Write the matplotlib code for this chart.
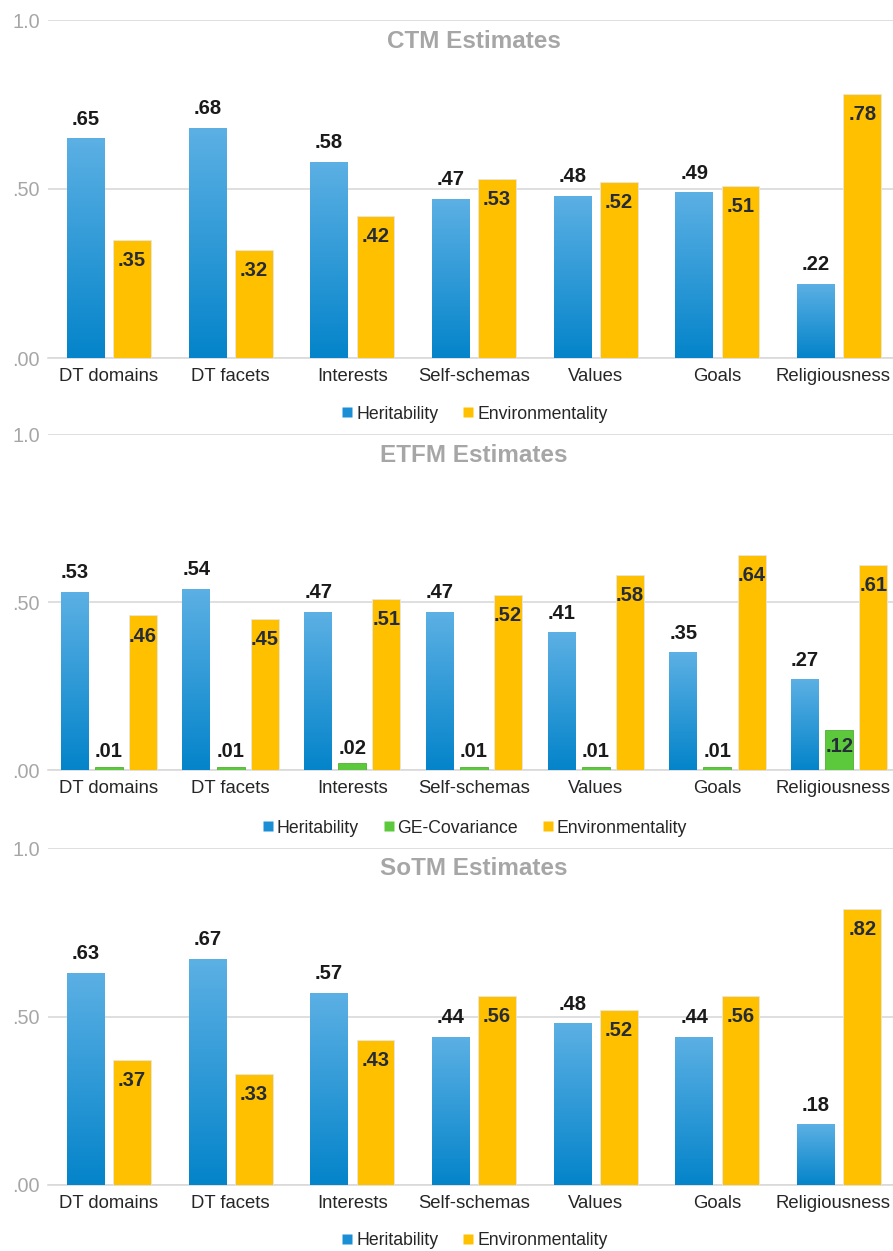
import numpy as np
import matplotlib
matplotlib.use("Agg")
import matplotlib.pyplot as plt
from matplotlib.colors import LinearSegmentedColormap
from matplotlib.lines import Line2D
from matplotlib.transforms import ScaledTranslation

plt.rcParams['font.family'] = ['Liberation Sans', 'DejaVu Sans']

categories = ['DT domains', 'DT facets', 'Interests', 'Self-schemas', 'Values', 'Goals', 'Religiousness']

ctm_herit = [.65, .68, .58, .47, .48, .49, .22]
ctm_env = [.35, .32, .42, .53, .52, .51, .78]

etfm_herit = [.53, .54, .47, .47, .41, .35, .27]
etfm_gecov = [.01, .01, .02, .01, .01, .01, .12]
etfm_env = [.46, .45, .51, .52, .58, .64, .61]

sotm_herit = [.63, .67, .57, .44, .48, .44, .18]
sotm_env = [.37, .33, .43, .56, .52, .56, .82]

yticks = [0.0, 0.5, 1.0]
ytick_labels = ['.00', '.50', '1.0']

BLUE_TOP = '#5cb0e4'
BLUE_BOT = '#0484ca'
YELLOW = '#ffc000'
GREEN = '#5cc93c'
GRID = '#d9d9d9'
GRAYTXT = '#a6a6a6'

blue_cmap = LinearSegmentedColormap.from_list('bl', [BLUE_BOT, BLUE_TOP])
grad = np.linspace(0, 1, 256).reshape(-1, 1)

W, H = 893, 1251
fig = plt.figure(figsize=(W / 100, H / 100), dpi=100)

def fmt(v):
    return ('%.2f' % v).lstrip('0')

def panel(top_px, bot_px, title, series, title_y, legend_y):
    left_px, right_px = 48, 900
    ax = fig.add_axes([left_px / W, 1 - bot_px / H, (right_px - left_px) / W, (bot_px - top_px) / H])
    x = np.arange(len(categories))
    n = len(series)
    if n == 2:
        width, offsets = 0.31, [-0.19, 0.19]
    else:
        width, offsets = 0.23, [-0.28, 0.0, 0.28]
    handles = []
    for (name, vals, kind), off in zip(series, offsets):
        xs = x + off
        if kind == 'blue':
            bars = ax.bar(xs, vals, width, color='none', edgecolor='none', zorder=3)
            for b in bars:
                x0 = b.get_x(); h = b.get_height()
                im = ax.imshow(grad, cmap=blue_cmap, origin='lower', aspect='auto',
                               extent=(x0, x0 + b.get_width(), 0, h), zorder=3, interpolation='bicubic')
                im.set_clip_path(b)
            for xi, v in zip(xs, vals):
                ax.annotate(fmt(v), (xi, v), xytext=(0, 7), textcoords='offset points',
                            ha='center', va='bottom', fontsize=14.5, fontweight='bold',
                            color='#1a1a1a', zorder=5)
            handles.append(Line2D([], [], marker='s', linestyle='none', markersize=7,
                                  markerfacecolor='#1a8fd6', markeredgecolor='none', label=name))
        elif kind == 'yellow':
            ax.bar(xs, vals, width, color=YELLOW, edgecolor='#e6e6e6', linewidth=0.6, zorder=3)
            for xi, v in zip(xs, vals):
                ax.annotate(fmt(v), (xi, v), xytext=(0, -8), textcoords='offset points',
                            ha='center', va='top', fontsize=14.5, fontweight='bold',
                            color='#262b38', zorder=5)
            handles.append(Line2D([], [], marker='s', linestyle='none', markersize=7,
                                  markerfacecolor=YELLOW, markeredgecolor='none', label=name))
        else:
            ax.bar(xs, vals, width, color=GREEN, edgecolor='#4fb030', linewidth=0.6, zorder=3)
            for xi, v in zip(xs, vals):
                if v < 0.05:
                    ax.annotate(fmt(v), (xi, v), xytext=(0, 4), textcoords='offset points',
                                ha='center', va='bottom', fontsize=14.5, fontweight='bold',
                                color='#1a1a1a', zorder=5)
                else:
                    ax.annotate(fmt(v), (xi, v), xytext=(0, -5), textcoords='offset points',
                                ha='center', va='top', fontsize=14.5, fontweight='bold',
                                color='#262b38', zorder=5)
            handles.append(Line2D([], [], marker='s', linestyle='none', markersize=7,
                                  markerfacecolor=GREEN, markeredgecolor='none', label=name))
    ax.set_xlim(-0.5, len(categories) - 0.5)
    ax.set_ylim(0, 1.0)
    ax.set_yticks(yticks)
    ax.set_yticklabels(ytick_labels)
    ax.set_xticks(x)
    ax.set_xticklabels(categories)
    ax.tick_params(axis='y', length=0, pad=6, labelsize=14.3, labelcolor=GRAYTXT)
    ax.tick_params(axis='x', length=0, pad=7.5, labelsize=13.3, labelcolor='#262626')
    # keep the last category label inside the picture
    last = ax.get_xticklabels()[-1]
    last.set_transform(last.get_transform() + ScaledTranslation(-6 / 100, 0, fig.dpi_scale_trans))
    for s in ['top', 'right', 'left']:
        ax.spines[s].set_visible(False)
    ax.spines['bottom'].set_color(GRID)
    ax.spines['bottom'].set_linewidth(1.2)
    ax.set_axisbelow(True)
    ax.yaxis.grid(True, color=GRID, linewidth=1.2)
    ax.patch.set_alpha(0)
    ax.text(0.5, title_y, title, transform=ax.transAxes, ha='center', va='center',
            fontsize=17.5, fontweight='bold', color=GRAYTXT, zorder=6)
    leg = ax.legend(handles=handles, loc='center', bbox_to_anchor=(0.5, legend_y),
                    ncol=len(handles), frameon=False, fontsize=12.7, handletextpad=0.1,
                    columnspacing=1.3, handlelength=0.8, borderaxespad=0)
    for t in leg.get_texts():
        t.set_color('#262626')
    return ax

panel(20, 358, 'CTM Estimates',
      [('Heritability', ctm_herit, 'blue'), ('Environmentality', ctm_env, 'yellow')],
      0.935, -0.166)
panel(434, 770, 'ETFM Estimates',
      [('Heritability', etfm_herit, 'blue'), ('GE-Covariance', etfm_gecov, 'green'),
       ('Environmentality', etfm_env, 'yellow')],
      0.9375, -0.173)
panel(848, 1185, 'SoTM Estimates',
      [('Heritability', sotm_herit, 'blue'), ('Environmentality', sotm_env, 'yellow')],
      0.94, -0.166)

fig.savefig('out.png', dpi=100)
